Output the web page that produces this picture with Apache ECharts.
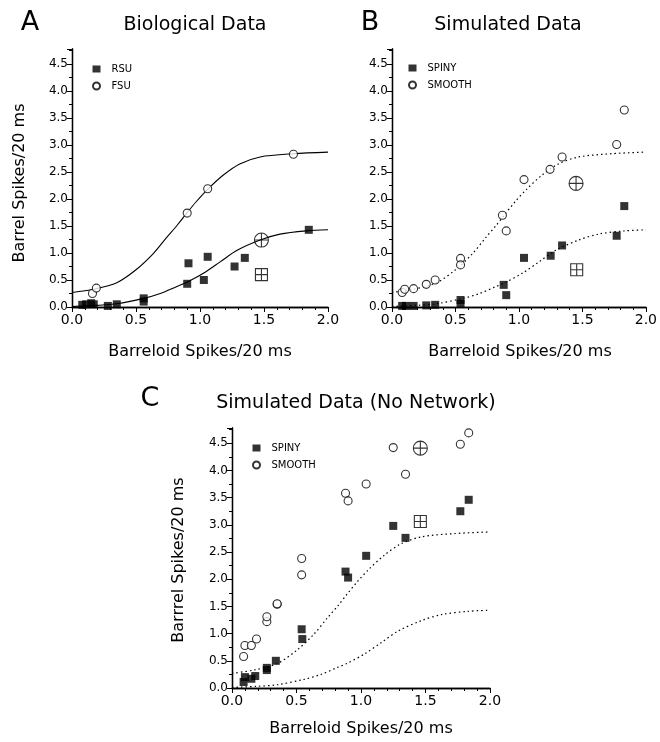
<!DOCTYPE html>
<html><head><meta charset="utf-8">
<script src="https://cdn.jsdelivr.net/npm/echarts@6/dist/echarts.min.js"></script>
<style>html,body{margin:0;padding:0;background:#fff}#c{width:660px;height:742px}</style>
</head><body><div id="c"></div>
<script>
// ---- Panel A: Biological data ----
var aRSU = [[0.08,0.04],[0.11,0.05],[0.15,0.07],[0.17,0.05],[0.28,0.02],[0.35,0.05],[0.56,0.16],[0.56,0.10],[0.90,0.43],[0.91,0.81],[1.03,0.50],[1.06,0.93],[1.27,0.75],[1.35,0.91],[1.85,1.43]];
var aFSU = [[0.16,0.25],[0.19,0.35],[0.90,1.74],[1.06,2.19],[1.73,2.83]];
var aMeanFSU = [[1.48,1.24]];
var aMeanRSU = [[1.48,0.60]];
// fitted curves
var upperCurve = [[0,0.27],[0.17,0.33],[0.35,0.45],[0.5,0.69],[0.635,0.99],[0.74,1.29],[0.82,1.51],[0.89,1.72],[0.97,1.95],[1.06,2.18],[1.18,2.44],[1.31,2.65],[1.47,2.78],[1.73,2.84],[2.0,2.87]];
var lowerCurve = [[0,0.01],[0.19,0.03],[0.35,0.06],[0.56,0.16],[0.69,0.25],[0.82,0.38],[0.89,0.45],[1.03,0.63],[1.16,0.84],[1.29,1.05],[1.47,1.24],[1.625,1.35],[1.83,1.41],[2.0,1.43]];
// ---- Panel B: Simulated data ----
var bSpiny = [[0.08,0.02],[0.11,0.02],[0.17,0.02],[0.27,0.03],[0.34,0.04],[0.54,0.13],[0.54,0.06],[0.88,0.41],[0.90,0.22],[1.04,0.91],[1.25,0.95],[1.34,1.14],[1.77,1.32],[1.83,1.87]];
var bSmooth = [[0.08,0.27],[0.10,0.33],[0.17,0.34],[0.27,0.42],[0.34,0.50],[0.54,0.90],[0.54,0.78],[0.87,1.70],[0.90,1.41],[1.04,2.36],[1.245,2.55],[1.34,2.78],[1.77,3.01],[1.83,3.65]];
var bMeanSmooth = [[1.45,2.29]];
var bMeanSpiny = [[1.455,0.69]];
// ---- Panel C: Simulated data (no network) ----
var cSpiny = [[0.09,0.11],[0.10,0.20],[0.15,0.17],[0.18,0.22],[0.27,0.33],[0.27,0.37],[0.34,0.50],[0.54,1.08],[0.545,0.90],[0.88,2.14],[0.90,2.03],[1.04,2.43],[1.25,2.98],[1.345,2.76],[1.77,3.25],[1.835,3.46]];
var cSmooth = [[0.09,0.58],[0.10,0.78],[0.15,0.78],[0.19,0.90],[0.27,1.22],[0.27,1.31],[0.35,1.54],[0.35,1.55],[0.54,2.08],[0.54,2.38],[0.88,3.58],[0.90,3.44],[1.04,3.75],[1.25,4.42],[1.345,3.93],[1.77,4.48],[1.835,4.69]];
var cMeanSmooth = [[1.46,4.41]];
var cMeanSpiny = [[1.46,3.06]];

var xTicks = [0, 0.5, 1.0, 1.5, 2.0];
var yTicks = [0, 0.5, 1.0, 1.5, 2.0, 2.5, 3.0, 3.5, 4.0, 4.5];

var FONT = '"DejaVu Sans", sans-serif';
var INK = '#000';
var chart = echarts.init(document.getElementById('c'), null, {renderer: 'canvas'});

var grids = [
  {left: 72, top: 49, width: 256, height: 258},
  {left: 392, top: 49, width: 256, height: 258},
  {left: 232, top: 428, width: 258, height: 260}
];

function fmt(list) {
  return function (v) {
    for (var i = 0; i < list.length; i++) if (Math.abs(list[i] - v) < 1e-6) return v.toFixed(1);
    return '';
  };
}
var xAxes = [], yAxes = [];
grids.forEach(function (g, i) {
  var line = {show: true, lineStyle: {color: INK, width: 1.3}};
  xAxes.push({type: 'value', gridIndex: i, position: 'bottom', min: 0, max: 2, interval: 0.5,
    axisLine: line, splitLine: {show: false},
    axisTick: {show: true, inside: false, length: 5, lineStyle: {color: INK}},
    minorTick: {show: true, splitNumber: 5, length: 3, lineStyle: {color: INK}},
    axisLabel: {formatter: fmt(xTicks), fontFamily: FONT, fontSize: 14, color: INK, margin: 6}});
  xAxes.push({type: 'value', gridIndex: i, position: 'top', min: 0, max: 2, interval: 0.5,
    axisLine: line, splitLine: {show: false},
    axisTick: {show: true, inside: true, length: 5, lineStyle: {color: INK}},
    minorTick: {show: true, splitNumber: 5, length: 3, lineStyle: {color: INK}},
    axisLabel: {show: false}});
  yAxes.push({type: 'value', gridIndex: i, position: 'left', min: 0, max: 4.78, interval: 0.5,
    axisLine: line, splitLine: {show: false},
    axisTick: {show: true, inside: false, length: 5, lineStyle: {color: INK}},
    minorTick: {show: true, splitNumber: 2, length: 3, lineStyle: {color: INK}},
    axisLabel: {formatter: fmt(yTicks), fontFamily: FONT, fontSize: 12, color: INK, margin: 4}});
  yAxes.push({type: 'value', gridIndex: i, position: 'right', min: 0, max: 4.78, interval: 0.5,
    axisLine: line, splitLine: {show: false},
    axisTick: {show: true, inside: true, length: 4, lineStyle: {color: INK}},
    minorTick: {show: true, splitNumber: 2, length: 3, lineStyle: {color: INK}},
    axisLabel: {show: false}});
});

var CIRCLE_PLUS = 'path://M0,-10A10,10 0 1,1 0,10A10,10 0 1,1 0,-10ZM-10,0L10,0M0,-10L0,10';
var SQUARE_PLUS = 'path://M-10,-10L10,-10L10,10L-10,10ZM-10,0L10,0M0,-10L0,10';

function sq(name, data, gi) {
  return {type: 'scatter', name: name, xAxisIndex: gi * 2, yAxisIndex: gi * 2, data: data,
    symbol: 'rect', symbolSize: 8, itemStyle: {color: INK}, z: 5};
}
function circ(name, data, gi) {
  return {type: 'scatter', name: name, xAxisIndex: gi * 2, yAxisIndex: gi * 2, data: data,
    symbol: 'circle', symbolSize: 8, itemStyle: {color: '#fff', borderColor: INK, borderWidth: 1.1}, z: 6};
}
function special(data, gi, path, size) {
  return {type: 'scatter', name: 'mean', xAxisIndex: gi * 2, yAxisIndex: gi * 2, data: data,
    symbol: path, symbolSize: size, symbolKeepAspect: true,
    itemStyle: {color: 'rgba(255,255,255,0)', borderColor: INK, borderWidth: 1.1}, z: 7};
}
function curve(data, gi, dotted) {
  return {type: 'line', name: 'fit', xAxisIndex: gi * 2, yAxisIndex: gi * 2, data: data,
    showSymbol: false, smooth: 0.3, silent: true,
    lineStyle: {color: INK, width: dotted ? 1.2 : 1.1, type: dotted ? [1.5, 3] : 'solid'}, z: 3};
}

var series = [
  curve(upperCurve, 0, false), curve(lowerCurve, 0, false),
  sq('RSU', aRSU, 0), circ('FSU', aFSU, 0),
  special(aMeanFSU, 0, CIRCLE_PLUS, 14), special(aMeanRSU, 0, SQUARE_PLUS, 12),
  curve(upperCurve, 1, true), curve(lowerCurve, 1, true),
  sq('SPINY', bSpiny, 1), circ('SMOOTH', bSmooth, 1),
  special(bMeanSmooth, 1, CIRCLE_PLUS, 14), special(bMeanSpiny, 1, SQUARE_PLUS, 12),
  curve(upperCurve, 2, true), curve(lowerCurve, 2, true),
  sq('SPINY', cSpiny, 2), circ('SMOOTH', cSmooth, 2),
  special(cMeanSmooth, 2, CIRCLE_PLUS, 14), special(cMeanSpiny, 2, SQUARE_PLUS, 12)
];

function legend(left, top, names) {
  return {left: left, top: top, orient: 'vertical', itemGap: 7, itemWidth: 8, itemHeight: 7,
    selectedMode: false, data: names,
    textStyle: {fontFamily: FONT, fontSize: 10, color: INK, padding: [0, 0, 0, 6]}};
}

function txt(str, x, y, size, rot) {
  return {type: 'text', x: x, y: y, rotation: rot || 0, silent: true,
    style: {text: str, font: 'normal ' + size + 'px ' + FONT, fill: INK, textAlign: 'center', textVerticalAlign: 'middle'}};
}

chart.setOption({
  animation: false,
  backgroundColor: '#fff',
  grid: grids,
  xAxis: xAxes,
  yAxis: yAxes,
  series: series,
  legend: [legend(87, 59, ['RSU', 'FSU']), legend(403, 58, ['SPINY', 'SMOOTH']), legend(247, 438, ['SPINY', 'SMOOTH'])],
  graphic: [
    txt('A', 30, 23, 27), txt('Biological Data', 195, 25, 19),
    txt('B', 370, 23, 27), txt('Simulated Data', 508, 25, 19),
    txt('C', 150, 399, 27), txt('Simulated Data (No Network)', 356, 403, 19),
    txt('Barreloid Spikes/20 ms', 200, 352, 16), txt('Barreloid Spikes/20 ms', 520, 352, 16),
    txt('Barreloid Spikes/20 ms', 361, 729, 16),
    txt('Barrel Spikes/20 ms', 20, 183, 16, Math.PI / 2),
    txt('Barrrel Spikes/20 ms', 179, 560, 16, Math.PI / 2)
  ]
});
</script>
</body></html>
